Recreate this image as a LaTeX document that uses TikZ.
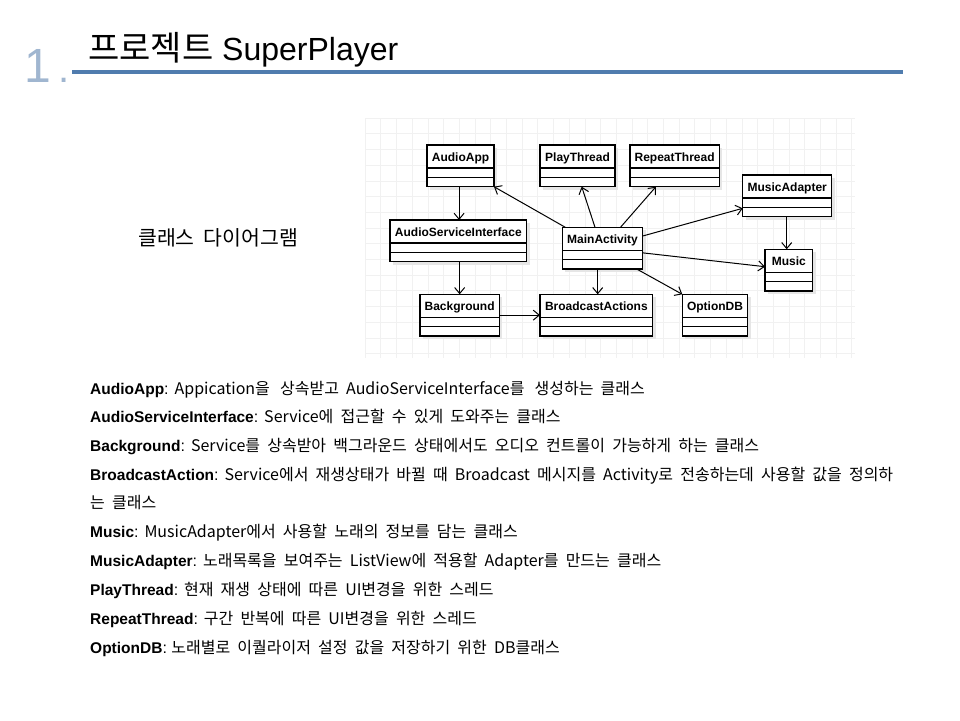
\documentclass[tikz,border=0pt]{standalone}
\usepackage{fontspec}
\setmainfont{Liberation Sans}
\newfontfamily\kr{Noto Sans CJK KR}
\newfontfamily\krbody[WordSpace=2]{Noto Sans CJK KR}
\usetikzlibrary{arrows.meta,calc}

\definecolor{numblue}{RGB}{160,182,208}
\definecolor{rulerblue}{RGB}{80,124,174}
\definecolor{gridc}{RGB}{241,241,241}
\definecolor{shadowc}{RGB}{230,230,230}

\tikzset{
  clsbox/.style={draw=black, line width=1.1pt, fill=white, rectangle,
    inner sep=0pt, outer sep=0pt, minimum height=41.7pt},
  clstitle/.style={inner sep=0pt, anchor=base, font=\fontsize{12}{14}\selectfont\bfseries},
  divider/.style={line width=1.1pt},
  dep/.style={line width=1pt, -{Straight Barb[length=6pt,width=10pt,line width=1pt]}},
  bodyline/.style={anchor=base west, inner sep=0pt, font=\fontsize{16}{18}\selectfont},
  gridline/.style={gridc, line width=0.6pt},
}

% one UML class: name, left x, top y, width, title
\newcommand\umlclass[5]{%
  \fill[shadowc] (#2+3,#3+3) rectangle ++(#4,41.7);
  \node[clsbox, minimum width=#4pt, anchor=north west] (#1) at (#2,#3) {};
  \node[clstitle] (#1-t) at ([yshift=-16pt]#1.north) {#5};
  \draw[divider] ([yshift=-23pt]#1.north west) -- ([yshift=-23pt]#1.north east);
  \draw[divider] ([yshift=-32.4pt]#1.north west) -- ([yshift=-32.4pt]#1.north east);
}

% bold class name followed by its description
\newcommand\descr[2]{{\fontsize{15.5}{18}\selectfont\bfseries #1}: {\krbody #2}}
\newcommand\widegap{\ \hspace{3pt}}

\begin{document}
\begin{tikzpicture}[x=1pt,y=-1pt]
  \useasboundingbox[fill=white] (0,0) rectangle (960,720);

  % heading
  \node[anchor=base west, inner sep=0pt, text=numblue,
        font=\fontsize{48}{50}\selectfont] (num) at (24,82) {1};
  \node[anchor=base, inner sep=0pt, text=numblue,
        font=\fontsize{40}{42}\selectfont] (numdot) at (64,82) {.};
  \node[anchor=base west, inner sep=0pt, font=\fontsize{32}{34}\selectfont]
        (title) at (88,60) {{\kr\fontsize{34}{36}\selectfont 프로젝트} SuperPlayer};
  \draw[rulerblue, line width=3.6pt] (72,72) -- (903,72);

  % faint grid behind the class diagram
  \foreach \gx in {0,...,31} \draw[gridline] (365+15.7*\gx,118) -- (365+15.7*\gx,358);
  \foreach \gy in {0,...,15} \draw[gridline] (365,118+15.7*\gy) -- (855,118+15.7*\gy);

  \node[anchor=west, inner sep=0pt, font=\kr\fontsize{20.5}{22}\selectfont]
        (cdlabel) at (138,238) {클래스 다이어그램};

  % classes
  \umlclass{aa}{427}{145}{67}{AudioApp}
  \umlclass{pt}{540}{145}{75}{PlayThread}
  \umlclass{rt}{630}{145}{89.3}{RepeatThread}
  \umlclass{mad}{742.7}{175}{89}{MusicAdapter}
  \umlclass{asi}{390}{220}{136.7}{AudioServiceInterface}
  \umlclass{ma}{562.3}{227.3}{80.4}{MainActivity}
  \umlclass{mu}{765}{249.3}{47.7}{Music}
  \umlclass{bg}{420}{294.3}{79.3}{Background}
  \umlclass{ba}{540}{294.3}{112.7}{BroadcastActions}
  \umlclass{odb}{682.3}{294.3}{65.4}{OptionDB}

  % dependencies
  \draw[dep] ([xshift=-1.4pt]aa.south) -- ([xshift=-1.4pt]aa.south |- asi.north);
  \draw[dep] ([xshift=1.3pt]asi.south) -- ([xshift=1.3pt]asi.south |- bg.north);
  \draw[dep] (bg.east) -- (ba.west);
  \draw[dep] ([xshift=3pt]ma.north west) -- (aa.south east);
  \draw[dep] ([xshift=-7.5pt]ma.north) -- ([xshift=4.2pt]pt.south);
  \draw[dep] ([xshift=18pt]ma.north) -- ([xshift=-18.7pt]rt.south);
  \draw[dep] ([yshift=-8.7pt]ma.north east) -- ([yshift=-33.3pt]mad.north west);
  \draw[dep] ([yshift=-4.7pt]ma.east) -- ([yshift=-17.4pt]mu.north west);
  \draw[dep] ([xshift=-4.8pt]ma.south) -- ([xshift=-4.8pt]ma.south |- ba.north);
  \draw[dep] ([xshift=-6pt]ma.south east) -- (odb.north west);
  \draw[dep] ([xshift=-0.5pt]mad.south) -- ([xshift=-0.5pt]mad.south |- mu.north);

  % class descriptions
  \node[bodyline] (d1) at (90,394) {\descr{AudioApp}{Appication을\widegap 상속받고 AudioServiceInterface를\widegap 생성하는 클래스}};
  \node[bodyline] (d2) at (90,422) {\descr{AudioServiceInterface}{Service에 접근할 수 있게 도와주는 클래스}};
  \node[bodyline] (d3) at (90,451) {\descr{Background}{Service를 상속받아 백그라운드 상태에서도 오디오 컨트롤이 가능하게 하는 클래스}};
  \node[bodyline] (d4) at (90,480) {\descr{BroadcastAction}{Service에서 재생상태가 바뀔 때 Broadcast 메시지를 Activity로 전송하는데 사용할 값을 정의하}};
  \node[bodyline] (d4b) at (90,508) {{\krbody 는 클래스}};
  \node[bodyline] (d5) at (90,537) {\descr{Music}{MusicAdapter에서 사용할 노래의 정보를 담는 클래스}};
  \node[bodyline] (d6) at (90,566) {\descr{MusicAdapter}{노래목록을 보여주는 ListView에 적용할 Adapter를 만드는 클래스}};
  \node[bodyline] (d7) at (90,595) {\descr{PlayThread}{현재 재생 상태에 따른 UI변경을 위한 스레드}};
  \node[bodyline] (d8) at (90,624) {\descr{RepeatThread}{구간 반복에 따른 UI변경을 위한 스레드}};
  \node[bodyline] (d9) at (90,653) {\descr{OptionDB}{노래별로 이퀄라이저 설정 값을 저장하기 위한 DB클래스}};
\end{tikzpicture}
\end{document}
